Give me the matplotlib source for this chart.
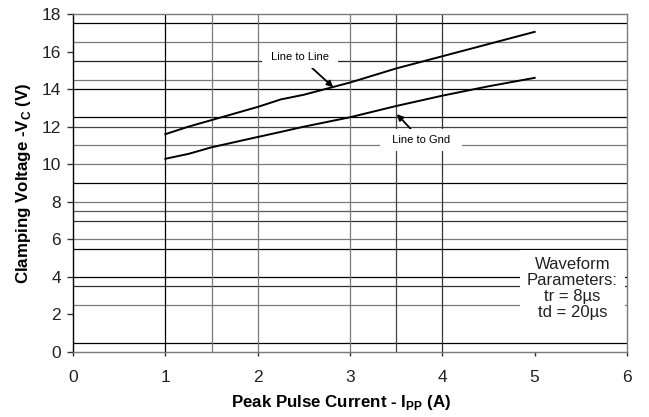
import matplotlib
matplotlib.use("Agg")
import matplotlib.pyplot as plt

plt.rcParams['font.family'] = ['Liberation Sans', 'DejaVu Sans']
plt.rcParams['mathtext.fontset'] = 'custom'
plt.rcParams['mathtext.rm'] = 'Liberation Sans'
plt.rcParams['mathtext.bf'] = 'Liberation Sans:bold'

# Data
current = [1, 1.25, 1.5, 2, 2.25, 2.5, 3, 3.5, 4, 4.5, 5]
line_to_line = [11.6, 12.0, 12.35, 13.05, 13.45, 13.7, 14.35, 15.1, 15.75, 16.4, 17.05]
line_to_gnd = [10.29, 10.55, 10.9, 11.45, 11.72, 12.0, 12.5, 13.1, 13.65, 14.15, 14.6]

x_ticks = [0, 1, 2, 3, 4, 5, 6]
y_ticks = [0, 2, 4, 6, 8, 10, 12, 14, 16, 18]

# reference lines (value, colour)
h_lines = [(0.5, '#000000'), (2.5, '#7a7a7a'), (3.5, '#333333'), (4, '#000000'),
           (5.5, '#000000'), (6, '#7a7a7a'), (7, '#333333'), (7.5, '#5a5a5a'),
           (8, '#7a7a7a'), (9, '#000000'), (10, '#7a7a7a'), (11, '#7a7a7a'),
           (12, '#444444'), (12.5, '#000000'), (14, '#000000'), (14.5, '#7a7a7a'),
           (15.5, '#222222'), (16.5, '#7a7a7a'), (17.5, '#000000')]
v_lines = [(1, '#000000'), (1.5, '#7a7a7a'), (2, '#7a7a7a'), (3, '#7a7a7a'),
           (3.5, '#444444'), (4, '#333333')]

fig = plt.figure(figsize=(6.49, 4.17), dpi=100)
ax = fig.add_axes([73/649, 1-352/417, (627-73)/649, (352-14)/417])

for v, c in h_lines:
    ax.axhline(v, color=c, lw=0.9, zorder=1)
for v, c in v_lines:
    ax.axvline(v, color=c, lw=0.9, zorder=1)

ax.plot(current, line_to_line, color='black', lw=1.4, zorder=4)
ax.plot(current, line_to_gnd, color='black', lw=1.4, zorder=4)

ax.set_xlim(0, 6)
ax.set_ylim(0, 18)
ax.set_xticks(x_ticks)
ax.set_yticks(y_ticks)

for s in ['top', 'right', 'bottom']:
    ax.spines[s].set_color('#7a7a7a')
    ax.spines[s].set_linewidth(1.0)
ax.spines['left'].set_color('#000000')
ax.spines['left'].set_linewidth(1.0)

ax.tick_params(axis='x', direction='out', length=3, width=1, color='#333333',
               pad=10, labelsize=12.5, labelcolor='#222222')
ax.tick_params(axis='y', direction='out', length=4.5, width=1, color='#333333',
               pad=4, labelsize=12.5, labelcolor='#222222')

ax.set_xlabel(r'Peak Pulse Current - I$_{\mathbf{PP}}$ (A)', fontsize=12.2,
              fontweight='bold')
ax.set_ylabel(r'Clamping Voltage -V$_{\mathbf{C}}$ (V)', fontsize=12.2,
              fontweight='bold')

box = dict(boxstyle='square,pad=0.55', facecolor='white', edgecolor='none')
ax.annotate(' Line to Line ', xy=(2.818, 14.1), xytext=(2.459, 15.71),
            ha='center', va='center', fontsize=8, bbox=box, zorder=3,
            arrowprops=dict(arrowstyle='-|>', color='black', lw=1.3,
                            mutation_scale=9, shrinkA=0, shrinkB=0))
ax.annotate('  Line to Gnd  ', xy=(3.507, 12.67), xytext=(3.77, 11.29),
            ha='center', va='center', fontsize=8, bbox=box, zorder=3,
            arrowprops=dict(arrowstyle='-|>', color='black', lw=1.3,
                            mutation_scale=9, shrinkA=0, shrinkB=0))

ax.text(5.41, 3.36, 'Waveform\nParameters:\ntr = 8\u00b5s\ntd = 20\u00b5s',
        ha='center', va='center', fontsize=12, linespacing=1.08, color='#222222',
        multialignment='center', zorder=3,
        bbox=dict(boxstyle='square,pad=0.45', facecolor='white', edgecolor='none'))

ax.xaxis.set_label_coords(0.484, -0.12)
ax.yaxis.set_label_coords(-0.072, 0.5)

fig.savefig('out.png', dpi=100)
